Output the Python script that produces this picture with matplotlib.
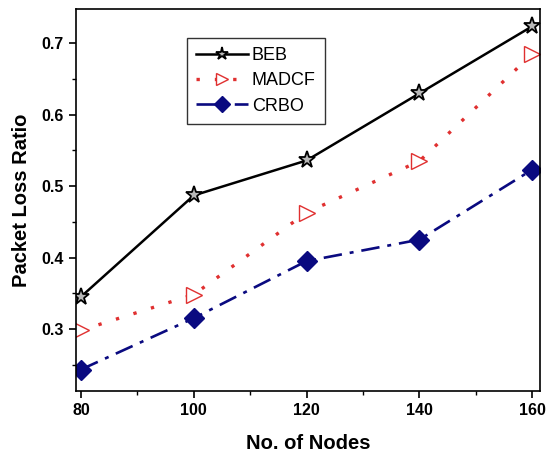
import matplotlib
matplotlib.use("Agg")
import matplotlib.pyplot as plt
from matplotlib.ticker import MultipleLocator

nodes = [80, 100, 120, 140, 160]
beb = [0.345, 0.487, 0.536, 0.630, 0.724]
madcf = [0.298, 0.348, 0.463, 0.535, 0.685]
crbo = [0.243, 0.315, 0.395, 0.425, 0.523]

plt.rcParams["font.family"] = ["Liberation Sans", "DejaVu Sans"]

fig = plt.figure(figsize=(5.46, 4.61), dpi=100)
ax = fig.add_axes([0.139, 0.152, 0.850, 0.828])

ax.plot(nodes, beb, color="black", lw=1.8, marker="*", ms=12.5,
        mfc="#b8b8b8", mec="black", mew=1.3, label="BEB")
ax.plot(nodes, madcf, color="#e03030", lw=2.4, ls=(0, (1, 4.5)), marker=">",
        ms=12, mfc="white", mec="#e03030", mew=1.0, label="MADCF")
ax.plot(nodes, crbo, color="#0a0a80", lw=1.9, ls=(0, (7, 3, 1.5, 3)), marker="D",
        ms=10.5, mfc="#0a0a80", mec="#0a0a80", label="CRBO")

ax.set_xlim(79.1, 161.4)
ax.set_ylim(0.213, 0.748)
ax.set_xticks(nodes)
ax.xaxis.set_minor_locator(MultipleLocator(10))
ax.set_yticks([0.3, 0.4, 0.5, 0.6, 0.7])
ax.yaxis.set_minor_locator(MultipleLocator(0.05))
ax.tick_params(which="major", direction="out", length=5, width=1.2, labelsize=11.5)
ax.tick_params(which="minor", direction="out", length=3, width=1.0)
for lab in ax.get_xticklabels() + ax.get_yticklabels():
    lab.set_fontweight("bold")
for s in ax.spines.values():
    s.set_linewidth(1.2)

ax.set_xlabel("No. of Nodes", fontsize=14.5, fontweight="bold", labelpad=12)
ax.set_ylabel("Packet Loss Ratio", fontsize=14.5, fontweight="bold", labelpad=8)

leg = ax.legend(loc="upper left", bbox_to_anchor=(0.239, 0.924), borderaxespad=0,
                fontsize=13, frameon=True, fancybox=False, edgecolor="black",
                markerscale=0.75, handlelength=2.9, handletextpad=0.2,
                borderpad=0.5, labelspacing=0.45)
leg.get_frame().set_linewidth(1.0)

fig.savefig("out.png", dpi=100)
